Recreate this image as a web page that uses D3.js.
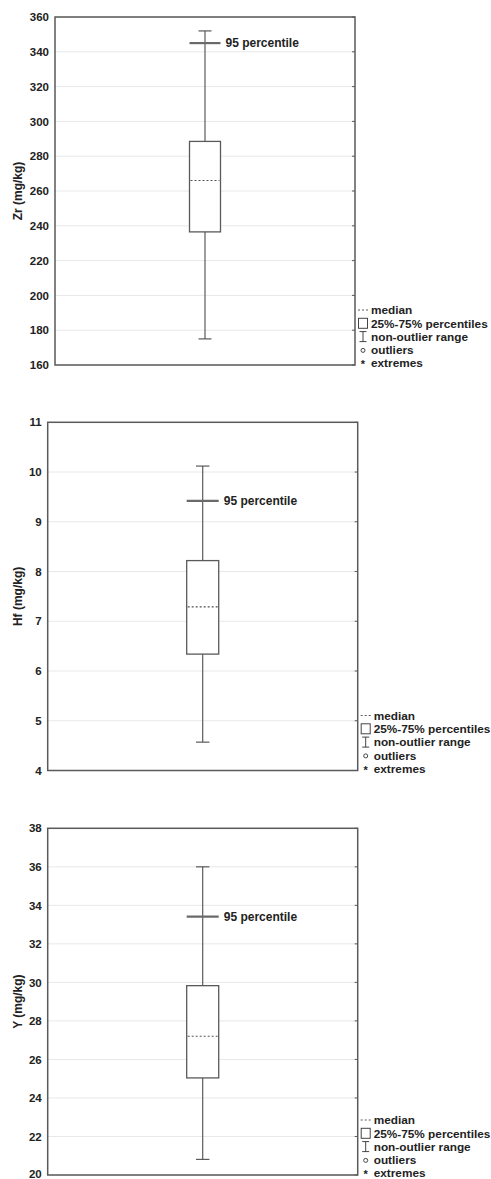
<!DOCTYPE html>
<html>
<head>
<meta charset="utf-8">
<script src="https://cdn.jsdelivr.net/npm/d3@7"></script>
<style>
  html, body { margin: 0; padding: 0; background: #fff; }
  svg { display: block; }
  text { font-family: "Liberation Sans", Arial, sans-serif; font-weight: bold; fill: #222; }
</style>
</head>
<body>
<svg id="chart" width="491" height="1179"></svg>
<script>
// ---- data ----
const variables   = ["Zr (mg/kg)", "Hf (mg/kg)", "Y (mg/kg)"];
const whiskerLow  = [175, 4.57, 20.81];
const q1          = [236.5, 6.34, 25.04];
const medians     = [266, 7.29, 27.2];
const q3          = [288.5, 8.22, 29.83];
const whiskerHigh = [352, 10.12, 36.0];
const p95         = [345, 9.42, 33.41];
const axisMin     = [160, 4, 20];
const axisMax     = [360, 11, 38];
const tickValues  = [
  [160, 180, 200, 220, 240, 260, 280, 300, 320, 340, 360],
  [4, 5, 6, 7, 8, 9, 10, 11],
  [20, 22, 24, 26, 28, 30, 32, 34, 36, 38]
];
const legendLabels = ["median", "25%-75% percentiles", "non-outlier range", "outliers", "extremes"];
const p95Label = "95 percentile";

// ---- layout ----
const frames = [
  {left: 55,   right: 355,   top: 17,    bottom: 365},
  {left: 47.7, right: 357.7, top: 422.3, bottom: 770.5},
  {left: 47.7, right: 357.7, top: 828.3, bottom: 1175}
];
const stroke = "#5a5a5a";
const H = 1179;

const svg = d3.select("#chart");

variables.forEach((name, i) => {
  const f = frames[i];
  const g = svg.append("g");
  const y = d3.scaleLinear().domain([axisMin[i], axisMax[i]]).range([f.bottom, f.top]);
  const x = d3.scaleBand().domain([name]).range([f.left, f.right]).paddingInner(0).paddingOuter(4.34);
  const cx = x(name) + x.bandwidth() / 2;
  const bw = x.bandwidth();

  // gridlines
  g.append("g").selectAll("line").data(tickValues[i]).join("line")
    .attr("x1", f.left).attr("x2", f.right)
    .attr("y1", d => y(d)).attr("y2", d => y(d))
    .attr("stroke", "#e6e8ea").attr("stroke-width", 1);

  // right inner ticks
  g.append("g").selectAll("line").data(tickValues[i]).join("line")
    .attr("x1", f.right - 3).attr("x2", f.right)
    .attr("y1", d => y(d)).attr("y2", d => y(d))
    .attr("stroke", stroke).attr("stroke-width", 1);

  // left axis labels
  const axis = d3.axisLeft(y).tickValues(tickValues[i]).tickSize(0).tickPadding(6)
    .tickFormat(d3.format("d"));
  const ag = g.append("g").attr("transform", `translate(${f.left},0)`).call(axis);
  ag.select(".domain").remove();
  ag.selectAll("text").attr("font-size", 11.5).attr("font-family", "Liberation Sans, Arial, sans-serif")
    .attr("font-weight", "bold").attr("fill", "#222");
  // keep labels inside the picture
  ag.selectAll(".tick").each(function(d) {
    const yy = y(d);
    if (yy + 5 > H) d3.select(this).select("text").attr("dy", `${0.32 - (yy + 5 - H) / 11.5}em`);
  });

  // frame
  g.append("rect")
    .attr("x", f.left).attr("y", f.top)
    .attr("width", f.right - f.left).attr("height", f.bottom - f.top)
    .attr("fill", "none").attr("stroke", stroke).attr("stroke-width", 1.5);

  // y title
  g.append("text")
    .attr("transform", `translate(22,${(f.top + f.bottom) / 2}) rotate(-90)`)
    .attr("text-anchor", "middle")
    .attr("font-size", 12)
    .text(name);

  // whisker
  g.append("line").attr("x1", cx).attr("x2", cx)
    .attr("y1", y(whiskerHigh[i])).attr("y2", y(whiskerLow[i]))
    .attr("stroke", stroke).attr("stroke-width", 1.2);
  [whiskerHigh[i], whiskerLow[i]].forEach(v => {
    g.append("line").attr("x1", cx - bw * 0.21).attr("x2", cx + bw * 0.21)
      .attr("y1", y(v)).attr("y2", y(v))
      .attr("stroke", stroke).attr("stroke-width", 1.2);
  });

  // box
  g.append("rect")
    .attr("x", x(name)).attr("y", y(q3[i]))
    .attr("width", bw).attr("height", y(q1[i]) - y(q3[i]))
    .attr("fill", "#fff").attr("stroke", stroke).attr("stroke-width", 1.3);

  // median
  g.append("line").attr("x1", x(name) + 1).attr("x2", x(name) + bw - 1)
    .attr("y1", y(medians[i])).attr("y2", y(medians[i]))
    .attr("stroke", "#555").attr("stroke-width", 1.1).attr("stroke-dasharray", "2,2");

  // 95 percentile
  g.append("line").attr("x1", x(name)).attr("x2", x(name) + bw)
    .attr("y1", y(p95[i])).attr("y2", y(p95[i]))
    .attr("stroke", "#6a6a6a").attr("stroke-width", 2.2);
  g.append("text")
    .attr("x", x(name) + bw + 5).attr("y", y(p95[i]) + 4.3)
    .attr("font-size", 12).text(p95Label);

  // legend
  const lx = f.right + 2;
  const rows = legendLabels.map((t, k) => f.bottom - 55 + k * 13.3);
  const lg = g.append("g");
  legendLabels.forEach((t, k) => {
    lg.append("text").attr("x", f.right + 16).attr("y", rows[k] + 4.2)
      .attr("font-size", 11.8).text(t);
  });
  // median symbol
  lg.append("line").attr("x1", lx + 1).attr("x2", lx + 11)
    .attr("y1", rows[0]).attr("y2", rows[0])
    .attr("stroke", stroke).attr("stroke-width", 1).attr("stroke-dasharray", "2,2");
  // box symbol
  lg.append("rect").attr("x", lx + 1.5).attr("y", rows[1] - 5).attr("width", 9).attr("height", 10)
    .attr("fill", "#fff").attr("stroke", "#444").attr("stroke-width", 1);
  // whisker symbol
  const wx = lx + 6;
  lg.append("line").attr("x1", wx).attr("x2", wx).attr("y1", rows[2] - 5).attr("y2", rows[2] + 5)
    .attr("stroke", "#444").attr("stroke-width", 1);
  [rows[2] - 5, rows[2] + 5].forEach(v => {
    lg.append("line").attr("x1", wx - 3.5).attr("x2", wx + 3.5).attr("y1", v).attr("y2", v)
      .attr("stroke", "#444").attr("stroke-width", 1);
  });
  // outlier symbol
  lg.append("circle").attr("cx", wx).attr("cy", rows[3] + 0.5).attr("r", 2)
    .attr("fill", "none").attr("stroke", "#444").attr("stroke-width", 1);
  // extreme symbol
  lg.append("text").attr("x", wx).attr("y", rows[4] + 5).attr("text-anchor", "middle")
    .attr("font-size", 11).text("*");
});
</script>
</body>
</html>
